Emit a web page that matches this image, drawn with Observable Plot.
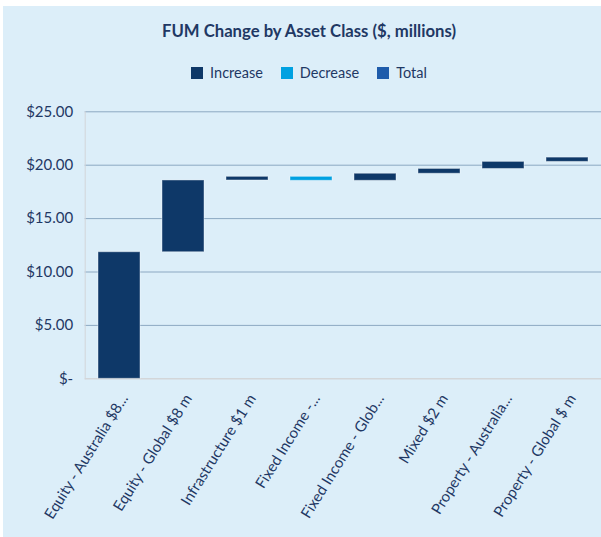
<!DOCTYPE html>
<html>
<head>
<meta charset="utf-8">
<script src="https://cdn.jsdelivr.net/npm/d3@7"></script>
<script src="https://cdn.jsdelivr.net/npm/@observablehq/plot@0.6"></script>
<style>
  body { margin: 0; background: #ffffff; font-family: Lato, "Open Sans", sans-serif; }
  #panel { position: absolute; left: 3px; top: 6px; width: 598px; height: 531px; background: #DCEEF9; overflow: hidden; }
  #title { position: absolute; top: 15px; left: 7px; width: 598px; text-align: center; font-weight: bold; font-size: 16.7px; color: #1F3864; }
  #legend { position: absolute; top: 58px; left: 7px; width: 598px; display: flex; justify-content: center; align-items: center; font-size: 14.5px; color: #1F3864; }
  .item { display: flex; align-items: center; margin: 0 9px; }
  .sw { width: 12px; height: 12px; margin-right: 7px; }
  #chart { position: absolute; top: 94px; left: 0; }
</style>
</head>
<body>
<div id="panel">
  <div id="title">FUM Change by Asset Class ($, millions)</div>
  <div id="legend"></div>
  <div id="chart"></div>
</div>
<script>
const categories = [
  "Equity - Australia $8...",
  "Equity - Global $8 m",
  "Infrastructure $1 m",
  "Fixed Income -...",
  "Fixed Income - Glob...",
  "Mixed $2 m",
  "Property - Australia...",
  "Property - Global $ m"
];
const changes = [11.85, 6.72, 0.34, -0.37, 0.66, 0.45, 0.66, 0.40];
const seriesNames = ["Increase", "Decrease", "Total"];
const seriesColors = ["#0E3868", "#00A1E1", "#1F5CAB"];
const yTicks = [0, 5, 10, 15, 20, 25];

// waterfall rows
let run = 0;
const rows = categories.map((c, i) => {
  const start = run;
  run += changes[i];
  return { category: c, start, end: run, type: changes[i] >= 0 ? "Increase" : "Decrease" };
});

// legend
const legend = document.getElementById("legend");
seriesNames.forEach((n, i) => {
  const it = document.createElement("div");
  it.className = "item";
  const sw = document.createElement("div");
  sw.className = "sw";
  sw.style.background = seriesColors[i];
  const t = document.createElement("span");
  t.textContent = n;
  it.appendChild(sw); it.appendChild(t);
  legend.appendChild(it);
});

const chart = Plot.plot({
  width: 598,
  height: 437,
  marginLeft: 81.7,
  marginRight: 0,
  marginTop: 11.3,
  marginBottom: 158.7,
  style: { background: "transparent", fontFamily: "Lato, 'Open Sans', sans-serif", fontSize: "15px", color: "#1F3864" },
  x: { domain: categories, paddingInner: 0.344, paddingOuter: 0.172, label: null },
  y: { domain: [0, 25], label: null },
  color: { domain: seriesNames, range: seriesColors },
  marks: [
    Plot.gridY(yTicks.filter(d => d > 0), { stroke: "#8CA8C2", strokeOpacity: 1 }),
    Plot.frame({ anchor: "left", stroke: "#D3D6D9" }),
    Plot.ruleY([0], { stroke: "#D3D6D9", strokeWidth: 1.5 }),
    Plot.barY(rows, { x: "category", y1: "start", y2: "end", fill: "type", stroke: "#ffffff", strokeOpacity: 0.4, strokeWidth: 1 }),
    Plot.axisY(yTicks, { tickSize: 0, tickPadding: 12, tickFormat: d => d === 0 ? "$-" : "$" + d.toFixed(2), fontSize: 15, fill: "#1F3864" }),
    Plot.axisX({ tickSize: 0, tickRotate: -58, tickPadding: 17, dx: 5, fontSize: 15, fill: "#1F3864" })
  ]
});
document.getElementById("chart").appendChild(chart);
</script>
</body>
</html>
